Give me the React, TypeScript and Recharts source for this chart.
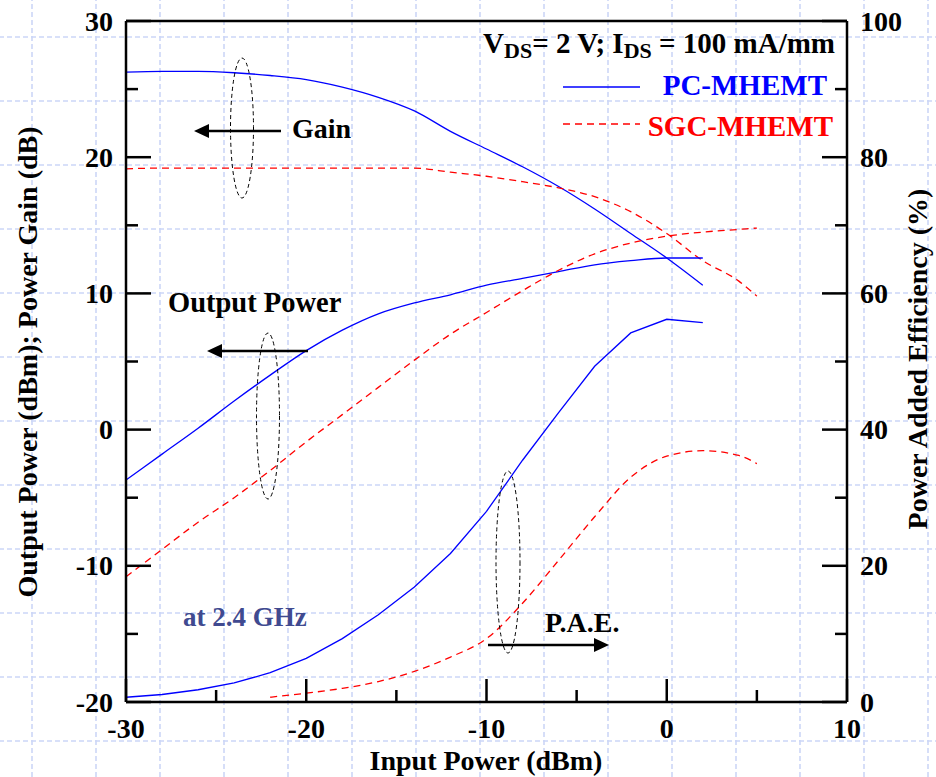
import React from 'react';
import { LineChart, Line, XAxis, YAxis, ReferenceLine } from 'recharts';

// Power sweep at 2.4 GHz, PC-MHEMT vs SGC-MHEMT
const inputPower = [-30, -28, -26, -24, -22, -20, -18, -16, -14, -12, -10, -8, -6, -4, -2, 0, 2, 4, 5];

const pcGain = [26.25, 26.3, 26.3, 26.2, 26.0, 25.7, 25.15, 24.4, 23.4, 21.9, 20.6, 19.3, 17.85, 16.2, 14.4, 12.6, 10.6];
const sgcGain = [19.15, 19.2, 19.2, 19.2, 19.2, 19.2, 19.2, 19.2, 19.2, 18.9, 18.6, 18.2, 17.75, 17.1, 16.0, 14.4, 12.4, 10.9, 9.8];

const pcPout = [-3.7, -1.8, 0.1, 2.1, 4.0, 5.8, 7.3, 8.5, 9.3, 9.9, 10.6, 11.1, 11.6, 12.1, 12.4, 12.6, 12.6];
const sgcPout = [-10.8, -8.8, -6.8, -5.0, -3.0, -0.9, 1.1, 3.1, 5.1, 7.0, 8.6, 10.2, 11.7, 12.9, 13.7, 14.2, 14.5, 14.7, 14.8];

const pcPae = [0.7, 1.1, 1.8, 2.8, 4.3, 6.4, 9.3, 12.8, 16.9, 21.8, 28.0, 35.5, 42.5, 49.3, 54.2, 56.2, 55.7];
const sgcPae = [null, null, null, null, 0.7, 1.3, 2.0, 3.0, 4.5, 6.6, 9.3, 14.5, 20.8, 27.2, 33.0, 36.1, 36.9, 36.2, 35.0];

const xTicks = [-30, -25, -20, -15, -10, -5, 0, 5, 10];
const leftTicks = [-20, -15, -10, -5, 0, 5, 10, 15, 20, 25, 30];
const rightTicks = [0, 10, 20, 30, 40, 50, 60, 70, 80, 90, 100];

const data = inputPower.map((x, i) => ({
  x,
  pcGain: pcGain[i] ?? null,
  sgcGain: sgcGain[i] ?? null,
  pcPout: pcPout[i] ?? null,
  sgcPout: sgcPout[i] ?? null,
  pcPae: pcPae[i] ?? null,
  sgcPae: sgcPae[i] ?? null,
}));

const FONT = "'Liberation Serif', 'Times New Roman', Times, serif";
const BLUE = '#0000ff';
const RED = '#ff0000';
const MAJOR = 25;
const MINOR = 12;

const labelStyle = { fontFamily: FONT, fontWeight: 'bold' as const, fontSize: 28, fill: '#000' };

const LeftTick = (props: any) => {
  const { x, y, payload } = props;
  const v = payload.value;
  const major = v % 10 === 0;
  return (
    <g>
      <line x1={x} x2={x + (major ? MAJOR : MINOR)} y1={y} y2={y} stroke="#000" strokeWidth={2.5} />
      {major && <text x={x - 13} y={y + 9.5} textAnchor="end" {...labelStyle}>{v}</text>}
    </g>
  );
};

const RightTick = (props: any) => {
  const { x, y, payload } = props;
  const v = payload.value;
  const major = v % 20 === 0;
  return (
    <g>
      <line x1={x} x2={x - (major ? MAJOR : MINOR)} y1={y} y2={y} stroke="#000" strokeWidth={2.5} />
      {major && <text x={x + 13} y={y + 9.5} textAnchor="start" {...labelStyle}>{v}</text>}
    </g>
  );
};

const BottomTick = (props: any) => {
  const { x, y, payload } = props;
  const v = payload.value;
  const major = v % 10 === 0;
  return (
    <g>
      <line x1={x} x2={x} y1={y} y2={y - (major ? MAJOR - 2 : MINOR)} stroke="#000" strokeWidth={2.5} />
      {major && <text x={x} y={y + 36} textAnchor="middle" {...labelStyle}>{v}</text>}
    </g>
  );
};

// faint dashed grid behind the whole slide
const gridTile =
  "url(\"data:image/svg+xml,%3Csvg xmlns='http://www.w3.org/2000/svg' width='64' height='64'%3E%3Cpath d='M1 0V64M0 1H64' stroke='%23ccd6f7' stroke-width='1.6' stroke-dasharray='5 3' fill='none'/%3E%3C/svg%3E\")";

const Arrow = ({ x1, x2, y }: { x1: number; x2: number; y: number }) => {
  const dir = x2 > x1 ? 1 : -1;
  const base = x2 - dir * 15;
  return (
    <g>
      <line x1={x1} x2={base} y1={y} y2={y} stroke="#000" strokeWidth={2.5} />
      <polygon points={`${x2},${y} ${base},${y - 7} ${base},${y + 7}`} fill="#000" />
    </g>
  );
};

const Annotations = () => (
  <svg width={936} height={777} style={{ position: 'absolute', left: 0, top: 0, pointerEvents: 'none' }}>
    {/* axis titles */}
    <text x={486} y={770} textAnchor="middle" {...labelStyle}>Input Power (dBm)</text>
    <text transform="translate(37,362) rotate(-90)" textAnchor="middle" {...labelStyle}>
      Output Power (dBm); Power Gain (dB)
    </text>
    <text transform="translate(927,359) rotate(-90)" textAnchor="middle" {...labelStyle}>
      Power Added Efficiency (%)
    </text>

    {/* bias + legend */}
    <text x={835} y={53} textAnchor="end" {...labelStyle} fontSize={29}>
      V<tspan fontSize={22} dy={5}>DS</tspan>
      <tspan dy={-5}>= 2 V; I</tspan>
      <tspan fontSize={22} dy={5}>DS</tspan>
      <tspan dy={-5}> = 100 mA/mm</tspan>
    </text>
    <line x1={563} x2={640} y1={87} y2={87} stroke={BLUE} strokeWidth={1.3} />
    <text x={827} y={95} textAnchor="end" {...labelStyle} fontSize={29} fill={BLUE}>PC-MHEMT</text>
    <line x1={563} x2={640} y1={124} y2={124} stroke={RED} strokeWidth={1.3} strokeDasharray="7 5" />
    <text x={833} y={136} textAnchor="end" {...labelStyle} fontSize={29} fill={RED}>SGC-MHEMT</text>

    {/* Gain */}
    <ellipse cx={242} cy={128} rx={11.5} ry={70} fill="none" stroke="#000" strokeWidth={1} strokeDasharray="4 3" />
    <Arrow x1={281} x2={194} y={131} />
    <text x={292} y={138} {...labelStyle}>Gain</text>

    {/* Output power */}
    <ellipse cx={268} cy={416} rx={11.5} ry={83} fill="none" stroke="#000" strokeWidth={1} strokeDasharray="4 3" />
    <Arrow x1={308} x2={207} y={351} />
    <text x={168} y={312} {...labelStyle} fontSize={28.5}>Output Power</text>

    {/* PAE */}
    <ellipse cx={508} cy={562} rx={12} ry={91} fill="none" stroke="#000" strokeWidth={1} strokeDasharray="4 3" />
    <Arrow x1={488} x2={609} y={645} />
    <text x={545} y={632} {...labelStyle}>P.A.E.</text>

    <text x={183} y={626} {...labelStyle} fontSize={27} fill="#404a90">at 2.4 GHz</text>
  </svg>
);

export default function App() {
  return (
    <div
      style={{
        position: 'absolute',
        left: 0,
        top: 0,
        width: 936,
        height: 777,
        overflow: 'hidden',
        backgroundColor: '#fff',
        backgroundImage: gridTile,
        backgroundPosition: '31px 36px',
      }}
    >
      <LineChart width={936} height={777} data={data} margin={{ top: 21, right: 0, bottom: 0, left: 0 }}>
        <XAxis
          dataKey="x"
          type="number"
          domain={[-30, 10]}
          ticks={xTicks}
          interval={0}
          height={75}
          tickSize={0}
          tickMargin={0}
          tickLine={false}
          tick={<BottomTick />}
          axisLine={{ stroke: '#000', strokeWidth: 2.5 }}
          allowDataOverflow
        />
        <YAxis
          yAxisId="left"
          domain={[-20, 30]}
          ticks={leftTicks}
          interval={0}
          width={126}
          tickSize={0}
          tickMargin={0}
          tickLine={false}
          tick={<LeftTick />}
          axisLine={{ stroke: '#000', strokeWidth: 2.5 }}
          allowDataOverflow
        />
        <YAxis
          yAxisId="right"
          orientation="right"
          domain={[0, 100]}
          ticks={rightTicks}
          interval={0}
          width={89}
          tickSize={0}
          tickMargin={0}
          tickLine={false}
          tick={<RightTick />}
          axisLine={{ stroke: '#000', strokeWidth: 2.5 }}
          allowDataOverflow
        />
        <ReferenceLine yAxisId="left" y={30} stroke="#000" strokeWidth={2.5} />

        <Line yAxisId="left" dataKey="pcGain" type="monotone" stroke={BLUE} strokeWidth={1.3} dot={false} isAnimationActive={false} />
        <Line yAxisId="left" dataKey="sgcGain" type="monotone" stroke={RED} strokeWidth={1.3} strokeDasharray="7 5" dot={false} isAnimationActive={false} />
        <Line yAxisId="left" dataKey="pcPout" type="monotone" stroke={BLUE} strokeWidth={1.3} dot={false} isAnimationActive={false} />
        <Line yAxisId="left" dataKey="sgcPout" type="monotone" stroke={RED} strokeWidth={1.3} strokeDasharray="7 5" dot={false} isAnimationActive={false} />
        <Line yAxisId="right" dataKey="pcPae" type="linear" stroke={BLUE} strokeWidth={1.3} dot={false} isAnimationActive={false} />
        <Line yAxisId="right" dataKey="sgcPae" type="monotone" stroke={RED} strokeWidth={1.3} strokeDasharray="7 5" dot={false} isAnimationActive={false} />
      </LineChart>
      <Annotations />
    </div>
  );
}
